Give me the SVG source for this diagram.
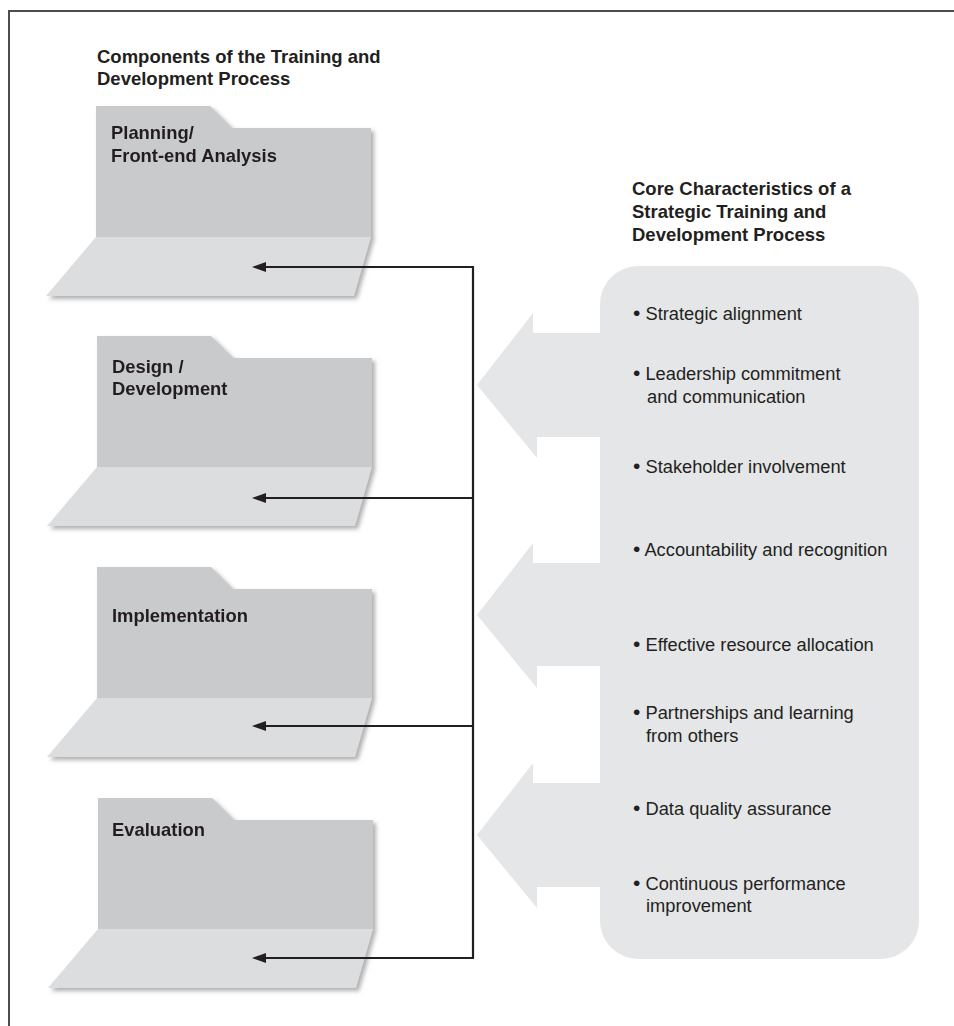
<svg xmlns="http://www.w3.org/2000/svg" width="954" height="1026" viewBox="0 0 954 1026">
  <style>
    .title { font-family: "Liberation Sans", Arial, Helvetica, sans-serif; font-weight: bold; font-size: 18.5px; fill: #231f20; }
    .label { font-family: "Liberation Sans", Arial, Helvetica, sans-serif; font-weight: bold; font-size: 18.4px; fill: #231f20; }
    .item { font-family: "Liberation Sans", Arial, Helvetica, sans-serif; font-size: 18.3px; fill: #231f20; }
    .dot { font-size: 21px; }
    .back { fill: #c9cacc; }
    .front { fill: #dcdddf; }
    .panel { fill: #e5e6e8; }
    .conn { fill: none; stroke: #231f20; stroke-width: 2.2; }
  </style>
  <defs>
    <filter id="shadow" x="-10%" y="-10%" width="130%" height="130%">
      <feDropShadow dx="3" dy="3" stdDeviation="2" flood-color="#7a7a7a" flood-opacity="0.6"/>
    </filter>
    <marker id="arrow" markerUnits="userSpaceOnUse" markerWidth="15" markerHeight="11" refX="6" refY="5" orient="auto">
      <path d="M0,0 L14,5 L0,10 Z" fill="#231f20"/>
    </marker>
    <g id="folder">
      <path class="back" d="M0,0 H114 L136,22 H275 V131 H0 Z"/>
      <path class="front" d="M0,131 H275 L258,190 H-50 Z"/>
    </g>
  </defs>

  <rect width="954" height="1026" fill="#ffffff"/>
  <path d="M9,1026 V11 H954" fill="none" stroke="#4d4d4d" stroke-width="2"/>

  <g id="heading-left">
    <text class="title" x="97" y="63">Components of the Training and</text>
    <text class="title" x="97" y="85">Development Process</text>
  </g>

  <g id="folder-planning" filter="url(#shadow)">
    <use href="#folder" x="96" y="106"/>
    <text class="label" x="111" y="139">Planning/</text>
    <text class="label" x="111" y="162">Front-end Analysis</text>
  </g>

  <g id="folder-design" filter="url(#shadow)">
    <use href="#folder" x="97" y="336"/>
    <text class="label" x="112" y="373">Design /</text>
    <text class="label" x="112" y="395">Development</text>
  </g>

  <g id="folder-implementation" filter="url(#shadow)">
    <use href="#folder" x="97" y="567"/>
    <text class="label" x="112" y="622">Implementation</text>
  </g>

  <g id="folder-evaluation" filter="url(#shadow)">
    <use href="#folder" x="98" y="798"/>
    <text class="label" x="112" y="836">Evaluation</text>
  </g>

  <g id="connectors">
    <path class="conn" d="M473,267 V958"/>
    <path class="conn" d="M474,267 H260" marker-end="url(#arrow)"/>
    <path class="conn" d="M474,498 H260" marker-end="url(#arrow)"/>
    <path class="conn" d="M474,726 H260" marker-end="url(#arrow)"/>
    <path class="conn" d="M474,958 H260" marker-end="url(#arrow)"/>
  </g>

  <g id="heading-right">
    <text class="title" x="632" y="195">Core Characteristics of a</text>
    <text class="title" x="632" y="218">Strategic Training and</text>
    <text class="title" x="632" y="241">Development Process</text>
  </g>

  <g id="characteristics">
    <rect class="panel" x="600" y="266" width="319" height="693" rx="38" ry="38"/>
    <polygon class="panel" points="610,333 533,333 533,313 477,385 537,458 537,437 610,437"/>
    <polygon class="panel" points="610,563 533,563 533,543 477,615 537,688 537,666 610,666"/>
    <polygon class="panel" points="610,783 533,783 533,763 477,835 537,908 537,887 610,887"/>
    <text class="item" x="633" y="320"><tspan class="dot">•</tspan> Strategic alignment</text>
    <text class="item" x="633" y="380"><tspan class="dot">•</tspan> Leadership commitment</text>
    <text class="item" x="647" y="403">and communication</text>
    <text class="item" x="633" y="473"><tspan class="dot">•</tspan> Stakeholder involvement</text>
    <text class="item" x="633" y="556"><tspan class="dot">•</tspan> Accountability and recognition</text>
    <text class="item" x="633" y="651"><tspan class="dot">•</tspan> Effective resource allocation</text>
    <text class="item" x="633" y="719"><tspan class="dot">•</tspan> Partnerships and learning</text>
    <text class="item" x="646" y="742">from others</text>
    <text class="item" x="633" y="815"><tspan class="dot">•</tspan> Data quality assurance</text>
    <text class="item" x="633" y="890"><tspan class="dot">•</tspan> Continuous performance</text>
    <text class="item" x="646" y="912">improvement</text>
  </g>
</svg>
